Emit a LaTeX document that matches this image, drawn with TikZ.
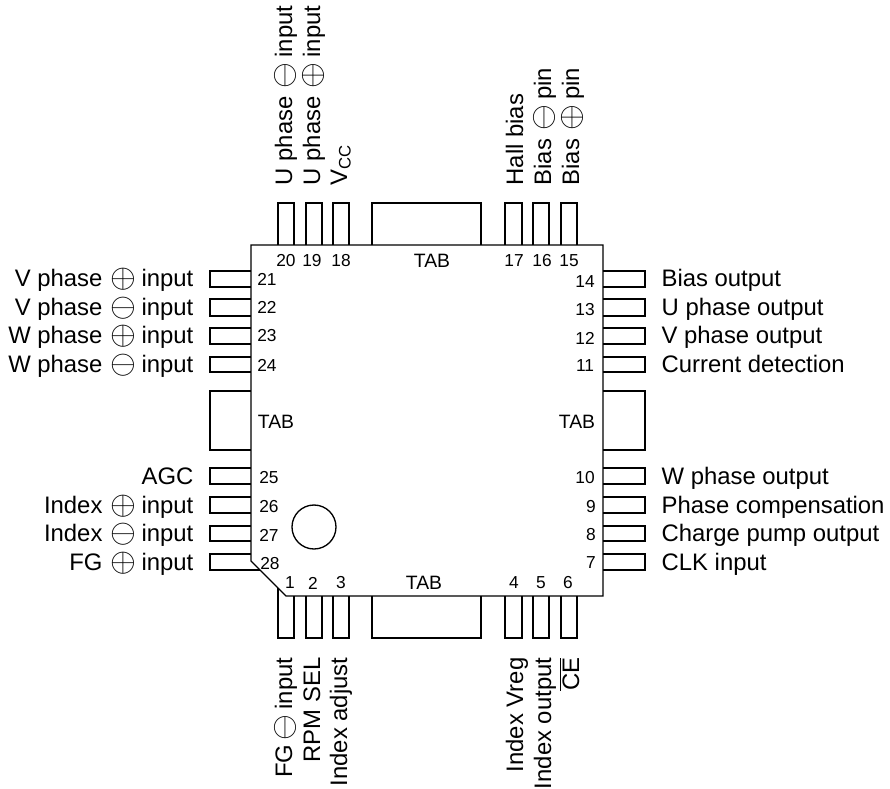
\documentclass[tikz,border=0pt]{standalone}
\usepackage{fontspec}
\setmainfont{Liberation Sans}
\newcommand{\sgnplus}{\hspace{6pt}\raisebox{-1pt}{\fontsize{24.88}{25}\selectfont$\oplus$}\hspace{4pt}}
\newcommand{\sgnminus}{\hspace{6pt}\raisebox{-1pt}{\fontsize{24.88}{25}\selectfont$\ominus$}\hspace{4pt}}
\tikzset{every picture/.style={line width=1pt},
  pinnum/.style={font=\fontsize{13}{15}\selectfont,inner sep=0pt},
  tabtxt/.style={font=\fontsize{14.5}{16}\selectfont,inner sep=0pt},
  pinleft/.style={font=\fontsize{17.9}{20}\selectfont,inner sep=0pt,anchor=base east},
  pinright/.style={font=\fontsize{17.9}{20}\selectfont,inner sep=0pt,anchor=base west},
  pintop/.style={font=\fontsize{17.9}{20}\selectfont,inner sep=0pt,rotate=90,anchor=base west},
  pinbot/.style={font=\fontsize{17.9}{20}\selectfont,inner sep=0pt,rotate=90,anchor=base east}}
\begin{document}
\begin{tikzpicture}[x=0.75pt,y=0.75pt,yscale=-1,xscale=1]
\useasboundingbox (0,0) rectangle (890,789);

%Shape: Package
\draw (251,245) -- (603,245) -- (603,596) -- (286,596) -- (251,561) -- cycle ;
%Shape: Circle
\draw (314,527) circle [radius=22*0.75pt] ;

%Shape: Top pins
\draw (278,245) -- (278,203) -- (294,203) -- (294,245) ;
\draw (306,245) -- (306,203) -- (322,203) -- (322,245) ;
\draw (333,245) -- (333,203) -- (349,203) -- (349,245) ;
\draw (372,245) -- (372,203) -- (481,203) -- (481,245) ;
\draw (505,245) -- (505,203) -- (522,203) -- (522,245) ;
\draw (533,245) -- (533,203) -- (549,203) -- (549,245) ;
\draw (561,245) -- (561,203) -- (577,203) -- (577,245) ;
%Shape: Bottom pins
\draw (278,588) -- (278,638) -- (294,638) -- (294,596) ;
\draw (306,596) -- (306,638) -- (322,638) -- (322,596) ;
\draw (333,596) -- (333,638) -- (349,638) -- (349,596) ;
\draw (372,596) -- (372,638) -- (481,638) -- (481,596) ;
\draw (505,596) -- (505,638) -- (522,638) -- (522,596) ;
\draw (533,596) -- (533,638) -- (549,638) -- (549,596) ;
\draw (561,596) -- (561,638) -- (577,638) -- (577,596) ;
%Shape: Left pins
\draw (251,271) -- (210,271) -- (210,287) -- (251,287) ;
\draw (251,299) -- (210,299) -- (210,316) -- (251,316) ;
\draw (251,328) -- (210,328) -- (210,344) -- (251,344) ;
\draw (251,357) -- (210,357) -- (210,372) -- (251,372) ;
\draw (251,391) -- (210,391) -- (210,450) -- (251,450) ;
\draw (251,468) -- (210,468) -- (210,484) -- (251,484) ;
\draw (251,497) -- (210,497) -- (210,513) -- (251,513) ;
\draw (251,526) -- (210,526) -- (210,541) -- (251,541) ;
\draw (251,554) -- (210,554) -- (210,570) -- (260,570) ;
%Shape: Right pins
\draw (603,271) -- (645,271) -- (645,287) -- (603,287) ;
\draw (603,299) -- (645,299) -- (645,316) -- (603,316) ;
\draw (603,328) -- (645,328) -- (645,344) -- (603,344) ;
\draw (603,357) -- (645,357) -- (645,372) -- (603,372) ;
\draw (603,391) -- (645,391) -- (645,450) -- (603,450) ;
\draw (603,468) -- (645,468) -- (645,484) -- (603,484) ;
\draw (603,497) -- (645,497) -- (645,513) -- (603,513) ;
\draw (603,526) -- (645,526) -- (645,541) -- (603,541) ;
\draw (603,554) -- (645,554) -- (645,570) -- (603,570) ;

% Text Node
\node [pinnum] (n1) at (290,583) {1};
\node [pinnum] (n2) at (313,583) {2};
\node [pinnum] (n3) at (341,583) {3};
\node [pinnum] (n4) at (514,583) {4};
\node [pinnum] (n5) at (541,583) {5};
\node [pinnum] (n6) at (568,583) {6};
\node [pinnum] (n7) at (591,563) {7};
\node [pinnum] (n8) at (591,535) {8};
\node [pinnum] (n9) at (591,507) {9};
\node [pinnum] (n10) at (585,478) {10};
\node [pinnum] (n11) at (585,366) {11};
\node [pinnum] (n12) at (585,338) {12};
\node [pinnum] (n13) at (585,310) {13};
\node [pinnum] (n14) at (585,282) {14};
\node [pinnum] (n15) at (569,261) {15};
\node [pinnum] (n16) at (542,261) {16};
\node [pinnum] (n17) at (514,261) {17};
\node [pinnum] (n18) at (341,261) {18};
\node [pinnum] (n19) at (312,261) {19};
\node [pinnum] (n20) at (286,261) {20};
\node [pinnum] (n21) at (267,279) {21};
\node [pinnum] (n22) at (267,307) {22};
\node [pinnum] (n23) at (267,336) {23};
\node [pinnum] (n24) at (267,365) {24};
\node [pinnum] (n25) at (269,478) {25};
\node [pinnum] (n26) at (269,507) {26};
\node [pinnum] (n27) at (269,535) {27};
\node [pinnum] (n28) at (270,564) {28};
% Text Node
\node [tabtxt] (tabtop) at (432,261) {TAB};
\node [tabtxt] (tabbot) at (424,583) {TAB};
\node [tabtxt] (tableft) at (276,422) {TAB};
\node [tabtxt] (tabright) at (577,422) {TAB};
% Text Node
\node [pinleft] (lab21) at (194,286) {V phase\sgnplus input};
\node [pinleft] (lab22) at (194,315) {V phase\sgnminus input};
\node [pinleft] (lab23) at (194,343) {W phase\sgnplus input};
\node [pinleft] (lab24) at (194,372) {W phase\sgnminus input};
\node [pinleft] (lab25) at (194,484) {AGC};
\node [pinleft] (lab26) at (194,513) {Index\sgnplus input};
\node [pinleft] (lab27) at (194,541) {Index\sgnminus input};
\node [pinleft] (lab28) at (194,570) {FG\sgnplus input};
% Text Node
\node [pinright] (lab14) at (661,286) {Bias output};
\node [pinright] (lab13) at (661,315) {U phase output};
\node [pinright] (lab12) at (661,343) {V phase output};
\node [pinright] (lab11) at (661,372) {Current detection};
\node [pinright] (lab10) at (661,484) {W phase output};
\node [pinright] (lab9) at (661,513) {Phase compensation};
\node [pinright] (lab8) at (661,541) {Charge pump output};
\node [pinright] (lab7) at (661,570) {CLK input};
% Text Node
\node [pintop] (lab20) at (292,186) {U phase\sgnminus input};
\node [pintop] (lab19) at (320,186) {U phase\sgnplus input};
\node [pintop] (lab18) at (347,186) {V\textsubscript{CC}};
\node [pintop] (lab17) at (523,186) {Hall bias};
\node [pintop] (lab16) at (551,186) {Bias\sgnminus pin};
\node [pintop] (lab15) at (579,186) {Bias\sgnplus pin};
% Text Node
\node [pinbot] (lab1) at (292,657) {FG\hspace{-3pt}\sgnminus input};
\node [pinbot] (lab2) at (320,657) {RPM SEL};
\node [pinbot] (lab3) at (347,657) {Index adjust};
\node [pinbot] (lab4) at (523,657) {Index Vreg};
\node [pinbot] (lab5) at (551,657) {Index output};
\node [pinbot] (lab6) at (579,657) {$\overline{\mbox{CE}}$};

\end{tikzpicture}
\end{document}
